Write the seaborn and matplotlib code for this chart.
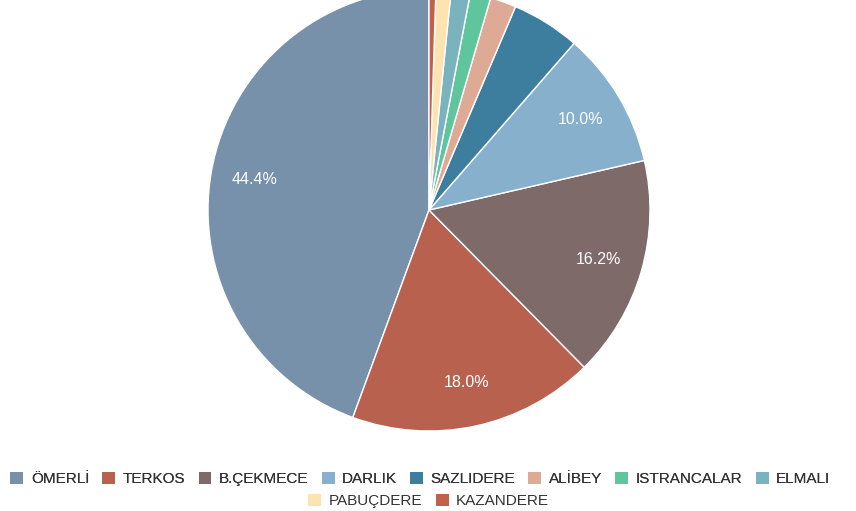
import matplotlib
matplotlib.use("Agg")
import matplotlib.pyplot as plt
import matplotlib.patches as mpatches
import seaborn as sns

# Reservoir shares (percent)
dams = ["ÖMERLİ", "TERKOS", "B.ÇEKMECE", "DARLIK", "SAZLIDERE",
        "ALİBEY", "ISTRANCALAR", "ELMALI", "PABUÇDERE", "KAZANDERE"]
shares = [44.4, 18.0, 16.2, 10.0, 5.0, 1.9, 1.5, 1.4, 1.1, 0.5]
dam_colors = ["#7891ab", "#b9614f", "#7f6a6a", "#86b0cc", "#3d7e9e",
              "#deaa96", "#5ec59c", "#7ab2be", "#fde3b0", "#c2614a"]

sns.set_theme(style="white")
plt.rcParams['font.family'] = ['Liberation Sans', 'DejaVu Sans']
palette = sns.color_palette(dam_colors)

fig = plt.figure(figsize=(8.56, 5.11), dpi=100)
ax = fig.add_axes([0, 0, 1, 1])


def pct_label(p):
    return f"{p:.1f}%" if p >= 9.5 else ""


wedges, texts, autotexts = ax.pie(
    shares, colors=palette, startangle=90, counterclock=True,
    radius=1.0, autopct=pct_label, pctdistance=0.8,
    wedgeprops={'edgecolor': 'white', 'linewidth': 1.0},
    textprops={'color': 'white', 'fontsize': 11.5})

# place the pie: centre at (429, 210) px, radius 221 px
R = 221.0
ax.set_xlim(-429 / R, (856 - 429) / R)
ax.set_ylim(-(511 - 210) / R, 210 / R)
ax.set_aspect('auto')
ax.axis('off')

handles = [mpatches.Patch(facecolor=c, edgecolor='none') for c in palette]
legend_kw = dict(frameon=False, fontsize=11, handlelength=0.85,
                 handleheight=0.8, handletextpad=0.5, columnspacing=0.85,
                 borderpad=0, labelcolor='#333333')

leg1 = fig.legend(handles[:8], dams[:8], ncol=8, loc='center',
                  bbox_to_anchor=(0.491, 1 - 479 / 511), **legend_kw)
fig.add_artist(leg1)
fig.legend(handles[8:], dams[8:], ncol=2, loc='center',
           bbox_to_anchor=(0.501, 1 - 501 / 511), **legend_kw)

fig.savefig("out.png", dpi=100)
